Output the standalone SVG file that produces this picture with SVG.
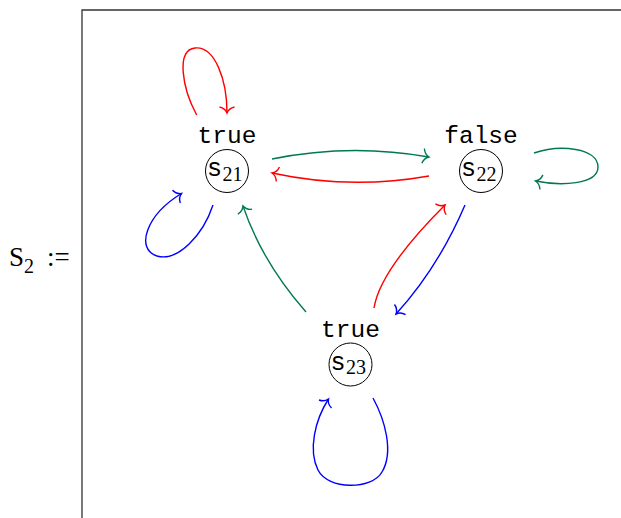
<svg xmlns="http://www.w3.org/2000/svg" width="621" height="518" viewBox="0 0 621 518">
<style>
.frame{fill:none;stroke:#333;stroke-width:1.3}
.node circle{fill:none;stroke:#000;stroke-width:1}
.lbl{font-family:"Liberation Mono",monospace;font-size:24.5px;fill:#000;text-anchor:middle}
.nm{font-family:"Liberation Mono",monospace;font-size:25px;fill:#000}
.sub{font-family:"Liberation Serif",serif;font-size:20px;fill:#000}
.e{fill:none;stroke-width:1.4}
.r{stroke:#ff0000;marker-end:url(#ar)}
.g{stroke:#007a4d;marker-end:url(#ag)}
.b{stroke:#0000ff;marker-end:url(#ab)}
.math{font-family:"Liberation Serif",serif;fill:#000}
</style>
<defs>
<marker id="ar" markerUnits="userSpaceOnUse" markerWidth="20" markerHeight="20" refX="0" refY="0" viewBox="-10 -10 20 20" orient="auto" overflow="visible"><path d="M-6,-7.5 C-5,-3 -2,-0.8 0,0 C-2,0.8 -5,3 -6,7.5" fill="none" stroke="#ff0000" stroke-width="1.4"/></marker>
<marker id="ag" markerUnits="userSpaceOnUse" markerWidth="20" markerHeight="20" refX="0" refY="0" viewBox="-10 -10 20 20" orient="auto" overflow="visible"><path d="M-6,-7.5 C-5,-3 -2,-0.8 0,0 C-2,0.8 -5,3 -6,7.5" fill="none" stroke="#007a4d" stroke-width="1.4"/></marker>
<marker id="ab" markerUnits="userSpaceOnUse" markerWidth="20" markerHeight="20" refX="0" refY="0" viewBox="-10 -10 20 20" orient="auto" overflow="visible"><path d="M-6,-7.5 C-5,-3 -2,-0.8 0,0 C-2,0.8 -5,3 -6,7.5" fill="none" stroke="#0000ff" stroke-width="1.4"/></marker>
</defs>
<path class="frame" d="M82,518 V10 H621"/>
<text class="math" x="9" y="266" font-size="27">S<tspan font-size="20" dy="7">2</tspan></text>
<text class="math" x="47" y="266" font-size="27">:=</text>
<g id="connectors">
<path class="e r" d="M196.7,115 C182,88 176,50 195,48 C215,46 227,80 227,113"/>
<path class="e b" d="M213,205 C203,235 178,262 157,256 C135,249 146,215 181.5,193.5"/>
<path class="e g" d="M272,159 Q350,143 429,157"/>
<path class="e r" d="M429,176 Q350,190 272,173"/>
<path class="e g" d="M534,153 C560,144 598,148 598,167 C598,185 560,186 535.5,181"/>
<path class="e b" d="M465,205 Q438,268 396,314"/>
<path class="e r" d="M374,308 Q380,270 445,205"/>
<path class="e g" d="M306,312 Q262,262 243,206"/>
<path class="e b" d="M373,398 C385,420 394,452 382,472 C372,490 328,490 318,470 C308,450 315,420 328.5,399"/>
</g>
<g id="s21" class="node">
<text class="lbl" x="227" y="143">true</text>
<circle cx="227" cy="171" r="21.5"/>
<text class="nm" x="207" y="176">s<tspan class="sub" dy="4.5" x="222.5">21</tspan></text>
</g>
<g id="s22" class="node">
<text class="lbl" x="481" y="143">false</text>
<circle cx="481" cy="171" r="21.5"/>
<text class="nm" x="461" y="176">s<tspan class="sub" dy="4.5" x="476.5">22</tspan></text>
</g>
<g id="s23" class="node">
<text class="lbl" x="350.5" y="336.5">true</text>
<circle cx="350.5" cy="364.5" r="21.5"/>
<text class="nm" x="330.5" y="369.5">s<tspan class="sub" dy="4.5" x="346">23</tspan></text>
</g>
</svg>
